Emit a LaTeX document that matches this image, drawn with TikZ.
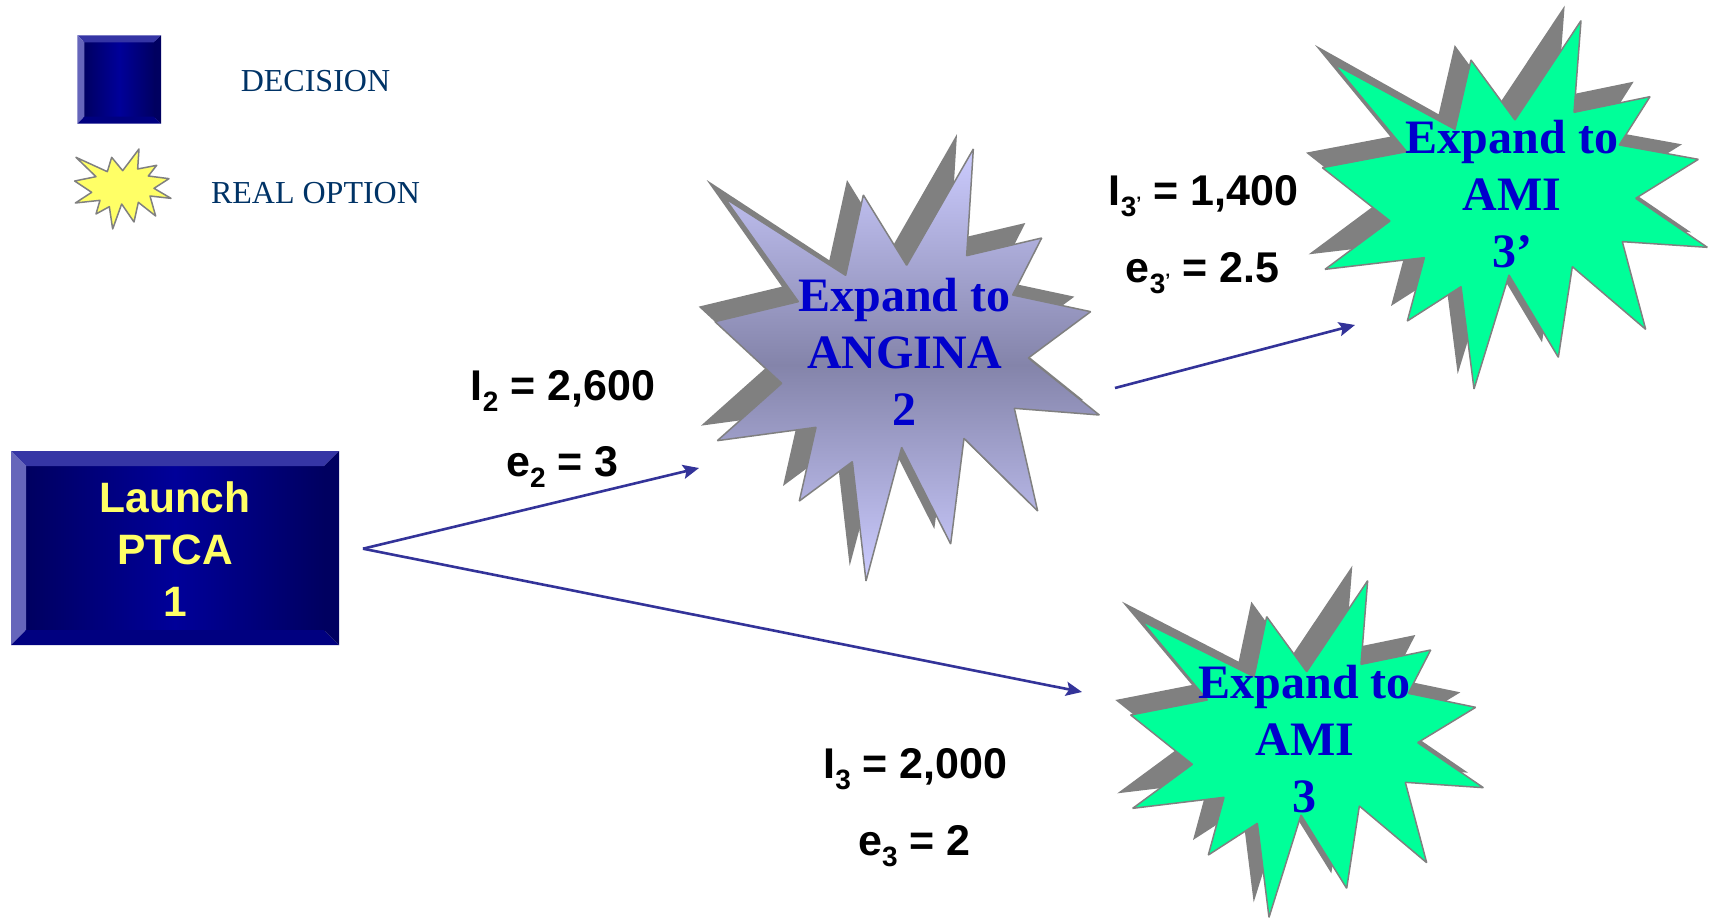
\documentclass[tikz,border=0pt]{standalone}
\usepackage{fontspec}
\setmainfont{Liberation Serif}
\newfontfamily\arialf{Liberation Sans}
\usetikzlibrary{arrows.meta}
\definecolor{shadowgray}{HTML}{808080}
\definecolor{linkblue}{HTML}{333399}
\definecolor{starlight}{HTML}{CCCCFF}
\definecolor{starmid}{HTML}{8484AA}
\definecolor{optgreen}{HTML}{00FF99}
\definecolor{startext}{HTML}{0000CC}
\definecolor{legendtext}{HTML}{003366}
\definecolor{btnyellow}{HTML}{FFFF66}
\definecolor{btndark}{HTML}{000060}
\definecolor{btnmid}{HTML}{000099}
\definecolor{bevtop}{HTML}{3535A5}
\definecolor{bevleft}{HTML}{6666BB}
\definecolor{bevbot}{HTML}{000080}
\definecolor{bevright}{HTML}{000060}
\def\starA#1{(880,87)--(860,407)--(1085,354)--(998,525)--(1232,575)--(1045,714)--(1258,885)--(1003,865)--(1073,1173)--(852,955)--(812,1272)--(665,982)--(558,1383)--(517,1025)--(358,1143)--(408,922)--(112,962)--(305,790)--(105,605)--(355,545)--#1--(497,466)--(550,225)--(680,436)--cycle}
\def\starB#1{(873,62)--(852,337)--(1080,290)--(988,435)--(1225,478)--(1037,595)--(1252,742)--(997,725)--(1067,988)--(847,800)--(805,1072)--(657,825)--(552,1167)--(513,860)--(352,963)--(403,773)--(105,808)--(300,663)--(97,503)--(350,455)--#1--(495,388)--(543,180)--(675,360)--cycle}
\def\starC#1{(803,92)--(783,343)--(992,300)--(925,430)--(1127,472)--(953,578)--(1150,713)--(916,697)--(980,938)--(778,768)--(740,1015)--(603,795)--(507,1102)--(472,820)--(325,915)--(372,742)--(98,775)--(277,643)--(92,495)--(322,450)--#1--(462,380)--(500,200)--(620,365)--cycle}
\def\starD{(417,387)--(413,447)--(470,436)--(445,468)--(507,476)--(462,505)--(513,535)--(450,528)--(467,588)--(415,547)--(402,606)--(365,552)--(338,627)--(328,560)--(288,582)--(300,541)--(226,549)--(275,517)--(224,483)--(288,470)--(228,412)--(322,455)--(335,412)--(368,452)--cycle}
\newcommand{\bevelbox}[5]{%
  \fill[bevtop]   (#1,#2)--(#3,#2)--({#3-#5},{#2+#5})--({#1+#5},{#2+#5})--cycle;
  \fill[bevleft]  (#1,#2)--({#1+#5},{#2+#5})--({#1+#5},{#4-#5})--(#1,#4)--cycle;
  \fill[bevbot]   (#1,#4)--({#1+#5},{#4-#5})--({#3-#5},{#4-#5})--(#3,#4)--cycle;
  \fill[bevright] (#3,#2)--(#3,#4)--({#3-#5},{#4-#5})--({#3-#5},{#2+#5})--cycle;}
\newcommand{\subs}[1]{\raisebox{-11pt}{\fontsize{28}{28}\selectfont #1}}
\newcommand{\subp}{\raisebox{-4pt}{\fontsize{18}{18}\selectfont ’}}
\tikzset{
  zoomed/.style={xscale=0.33333,yscale=0.33333},
  shadowfill/.style={fill=shadowgray,draw=none},
  staredge/.style={draw=shadowgray,line width=1.5pt,line join=bevel},
  startxt/.style={anchor=base,inner sep=0,align=center,text=startext,font=\fontsize{48}{57}\selectfont\bfseries},
  legendtxt/.style={anchor=base,inner sep=0,text=legendtext,font=\fontsize{32}{36}\selectfont},
  param/.style={anchor=base,inner sep=0,text=black,font=\arialf\bfseries\fontsize{43}{46}\selectfont},
  link/.style={draw=linkblue,line width=2.6pt,-{Stealth[length=16pt,width=14pt,inset=3pt]}},
  btn/.style={inner sep=0,left color=btndark,right color=btndark,middle color=btnmid},
}
\begin{document}
\begin{tikzpicture}[x=1pt,y=-1pt]
\useasboundingbox (0,0) rectangle (1709,918);
\fill[white] (0,0) rectangle (1709,918);

% legend
\node[btn,minimum width=72pt,minimum height=76pt] (decisionicon) at (119.15,79.35) {};
\bevelbox{77.3}{35.3}{161}{123.7}{7}
\begin{scope}[shift={(0,20)},zoomed]
  \path[draw=shadowgray,line width=1.5pt,line join=round,fill=btnyellow] \starD;
\end{scope}
\node[legendtxt] (decisionlabel) at (315.5,91.7) {DECISION};
\node[legendtxt] (optionlabel) at (315.5,203.7) {REAL OPTION};

% launch box
\node[btn,minimum width=300pt,minimum height=166pt,text=btnyellow,align=center,
      font=\arialf\bfseries\fontsize{42.5}{52}\selectfont] (launch) at (175,549) {Launch\\PTCA\\1};
\bevelbox{11}{451}{339}{645}{15}

% star ANGINA
\begin{scope}[shift={(680,120)},zoomed]
  \begin{scope}[shift={(-49,-45)}]
    \path[shadowfill] \starA{(129,225)};
  \end{scope}
  \path[staredge,top color=starlight,bottom color=starlight,middle color=starmid] \starA{(135,235)};
\end{scope}
\node[startxt] (angina) at (904.5,425) {Expand to\\ANGINA\\2};

% star AMI 3'
\begin{scope}[shift={(1290,0)},zoomed]
  \begin{scope}[shift={(-49,-45)}]
    \path[shadowfill] \starB{(124,180)};
  \end{scope}
  \path[staredge,fill=optgreen] \starB{(132,192)};
\end{scope}
\node[startxt] (amitop) at (1512,267.7) {Expand to\\AMI\\3’};

% star AMI 3
\begin{scope}[shift={(1100,550)},zoomed]
  \begin{scope}[shift={(-46,-45)}]
    \path[shadowfill] \starC{(112,200)};
  \end{scope}
  \path[staredge,fill=optgreen] \starC{(125,213)};
\end{scope}
\node[startxt] (amibot) at (1304.7,812.2) {Expand to\\AMI\\3};

% connectors
\coordinate (launchout) at (363,548.7);
\coordinate (anginain) at (699,468);
\coordinate (amibotin) at (1082,692);
\coordinate (anginaout) at (1115,388);
\coordinate (amitopin) at (1355,325);
\draw[link] (launchout) -- (anginain);
\draw[link] (launchout) -- (amibotin);
\draw[link] (anginaout) -- (amitopin);

% parameters
\node[param] (iA) at (563,400) {I\subs{2} = 2,600};
\node[param] (eA) at (562.5,476) {e\subs{2} = 3};
\node[param] (iB) at (1203.5,205.5) {I\subs{3}\subp{} = 1,400};
\node[param] (eB) at (1202.5,282) {e\subs{3}\subp{} = 2.5};
\node[param] (iC) at (915.5,778) {I\subs{3} = 2,000};
\node[param] (eC) at (914.5,855) {e\subs{3} = 2};
\end{tikzpicture}
\end{document}
